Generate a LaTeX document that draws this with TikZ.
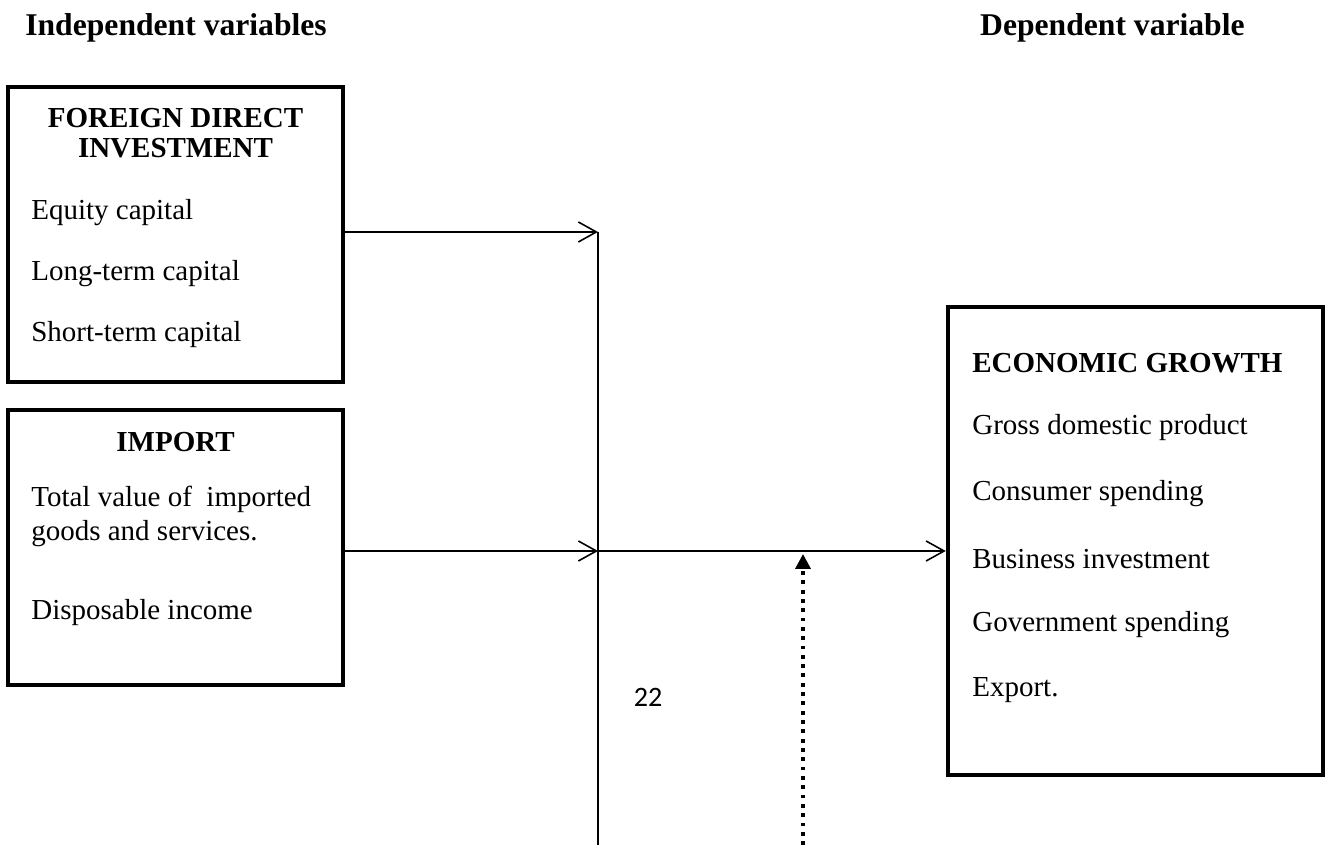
\documentclass[tikz,border=0pt]{standalone}
\usepackage{fontspec}
\setmainfont{Liberation Serif}
\newfontfamily\pagenofont{Carlito}
\usepackage{tikz}
\usetikzlibrary{arrows.meta,positioning}

\tikzset{
    box/.style={draw,line width=2.6pt,inner sep=0pt},
    head/.style={font=\fontsize{18}{21}\selectfont\bfseries,inner sep=0pt},
    title/.style={font=\fontsize{16.5}{17}\selectfont\bfseries,inner sep=0pt,align=center},
    item/.style={font=\fontsize{16.5}{19.8}\selectfont,inner sep=0pt,anchor=west,align=left},
    link/.style={line width=0.9pt,-{Straight Barb[length=3.6mm,width=4mm]}},
    cue/.style={line width=2pt,dash pattern=on 2.2pt off 3.1pt,-{Triangle[length=3mm,width=3mm]}}
}

\begin{document}
\begin{tikzpicture}
    \useasboundingbox (0,0) rectangle (26.52,-16.9);
    \node[head,anchor=west] (indep) at (0.5,-0.56) {Independent variables};
    \node[head,anchor=east] (dep) at (24.9,-0.56) {Dependent variable};

    \node[box,minimum width=6.7cm,minimum height=5.9cm] (fdi) at (3.51,-4.69) {};
    \node[title] (fdit) at (3.51,-2.66) {FOREIGN DIRECT\\INVESTMENT};
    \foreach \txt [count=\i] in {Equity capital,Long-term capital,Short-term capital}
        \node[item] (fdi\i) at (0.62,{-4.26-1.22*(\i-1)}) {\txt};

    \node[box,minimum width=6.7cm,minimum height=5.5cm] (imp) at (3.51,-10.95) {};
    \node[title] (impt) at (3.51,-8.84) {IMPORT};
    \node[item] (imp1) at (0.62,-10.33) {Total value of\ \ imported\\goods and services.};
    \node[item] (imp2) at (0.62,-12.26) {Disposable income};

    \node[box,minimum width=7.5cm,minimum height=9.36cm] (eg) at (22.71,-10.82) {};
    \node[item,font=\fontsize{16.5}{19.8}\selectfont\bfseries] (egt) at (19.44,-7.26) {ECONOMIC GROWTH};
    \foreach \txt [count=\i] in {Gross domestic product,Consumer spending,Business investment,Government spending,Export.}
        \node[item] (eg\i) at (19.44,{-8.56-1.31*(\i-1)}) {\txt};

    \coordinate (j1) at (11.96,-4.64);
    \coordinate (j2) at (11.96,-11.02);
    \coordinate (jb) at (11.96,-16.9);
    \coordinate (cb) at (16.06,-16.9);
    \coordinate (ct) at (16.06,-11.08);

    \draw[link] (fdi.east |- j1) -- (j1);
    \draw[link] (imp.east |- j2) -- (j2);
    \draw[line width=0.9pt] (j1) -- (jb);
    \draw[link] (j2) -- (eg.west |- j2);
    \draw[cue] (cb) -- (ct);

    \node[font=\pagenofont\fontsize{16}{19}\selectfont] (pg) at (12.96,-13.94) {22};
\end{tikzpicture}
\end{document}
